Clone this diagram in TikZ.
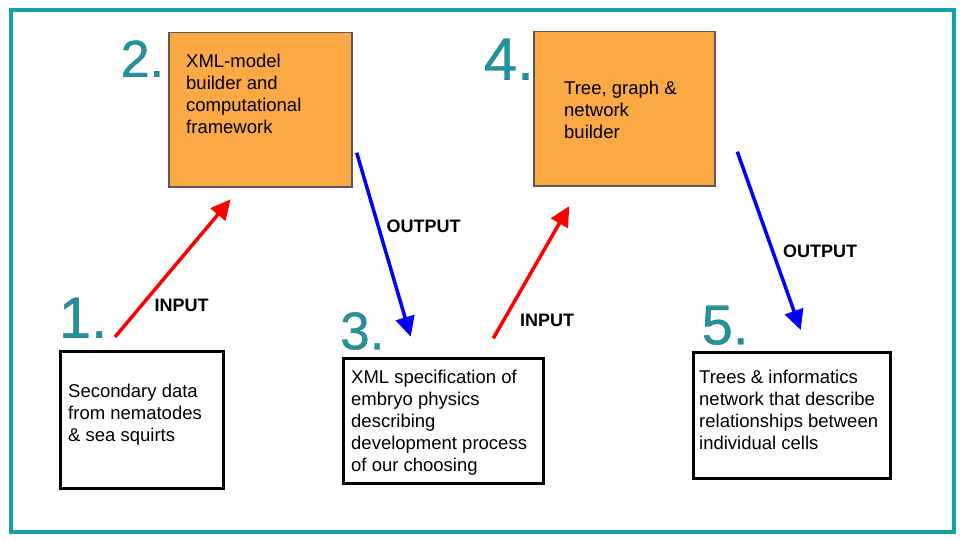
\documentclass[tikz,border=0pt]{standalone}
\usepackage{fontspec}
\setmainfont{Liberation Sans}
\newfontfamily\numfont[FakeBold=0.6]{Liberation Sans}
\usetikzlibrary{arrows.meta}
\definecolor{frameteal}{HTML}{15A0A8}
\definecolor{numteal}{HTML}{1E959E}
\definecolor{boxorange}{HTML}{FBA944}
\definecolor{boxgrey}{HTML}{5A5A5A}
\newcommand{\bignum}[2]{{\fontsize{#1}{#1}\numfont\special{pdf:code 0.20 0.42 0.45 RG}#2}}
\begin{document}
\begin{tikzpicture}[x=1pt,y=-1pt,
  orangebox/.style={draw=boxgrey, line width=1.5pt, fill=boxorange, inner sep=0pt, anchor=north west},
  blackbox/.style={draw=black, line width=3pt, inner sep=0pt, anchor=north west},
  boxtext/.style={anchor=west, align=left, inner sep=0pt, font=\fontsize{18.5}{22}\selectfont},
  numlabel/.style={text=numteal, inner sep=0pt, anchor=south west},
  lbl/.style={inner sep=0pt, font=\fontsize{18}{18}\selectfont\bfseries},
  redarrow/.style={draw=red, line width=3.5pt, -{Triangle[length=20pt,width=19pt]}},
  bluearrow/.style={draw=blue, line width=3.5pt, -{Triangle[length=20pt,width=19pt]}}]
\useasboundingbox (0,0) rectangle (960,540);
\fill[white] (0,0) rectangle (960,540);
% frame
\node[draw=frameteal, line width=4pt, minimum width=943pt, minimum height=521pt, inner sep=0pt, anchor=north west] (frame) at (8.5,8.5) {};
% boxes
\node[orangebox, minimum width=183pt, minimum height=154pt] (b2) at (168,32) {};
\node[orangebox, minimum width=181pt, minimum height=154pt] (b4) at (533,31) {};
\node[blackbox, minimum width=163pt, minimum height=137pt] (b1) at (59,350) {};
\node[blackbox, minimum width=200pt, minimum height=125pt] (b3) at (342,357) {};
\node[blackbox, minimum width=197pt, minimum height=126pt] (b5) at (692,351) {};
% box texts
\node[boxtext] (t2) at (186,93.5) {XML-model\\builder and\\computational\\framework};
\node[boxtext] (t4) at (564,110) {Tree, graph \&\\network\\builder};
\node[boxtext] (t1) at (68,415) {Secondary data\\from nematodes\\\& sea squirts};
\node[boxtext] (t3) at (351,423) {XML specification of\\embryo physics\\describing\\development process\\of our choosing};
\node[boxtext] (t5) at (699,409.5) {Trees \& informatics\\network that describe\\relationships between\\individual cells};
% numbers
\node[numlabel] (n1) at (58.7,338) {\bignum{58}{1.}};
\node[numlabel] (n2) at (120.5,77) {\bignum{52}{2.}};
\node[numlabel] (n3) at (340,350) {\bignum{53}{3.}};
\node[numlabel] (n4) at (483.5,80) {\bignum{60}{4.}};
\node[numlabel] (n5) at (701.5,345) {\bignum{56}{5.}};
% arrow ends
\coordinate (a1s) at (115,337);
\coordinate (a1e) at (230.7,199.3);
\coordinate (a2s) at (356.7,152.7);
\coordinate (a2e) at (410.7,336.7);
\coordinate (a3s) at (493.3,338.3);
\coordinate (a3e) at (569.3,206);
\coordinate (a4s) at (737.3,151.7);
\coordinate (a4e) at (800.7,330);
\draw[redarrow] (a1s) -- (a1e);
\draw[bluearrow] (a2s) -- (a2e);
\draw[redarrow] (a3s) -- (a3e);
\draw[bluearrow] (a4s) -- (a4e);
% labels
\node[lbl] (l1) at (181.5,305) {INPUT};
\node[lbl] (l2) at (423.5,226) {OUTPUT};
\node[lbl] (l3) at (547,320) {INPUT};
\node[lbl] (l4) at (820,251.5) {OUTPUT};
\end{tikzpicture}
\end{document}
